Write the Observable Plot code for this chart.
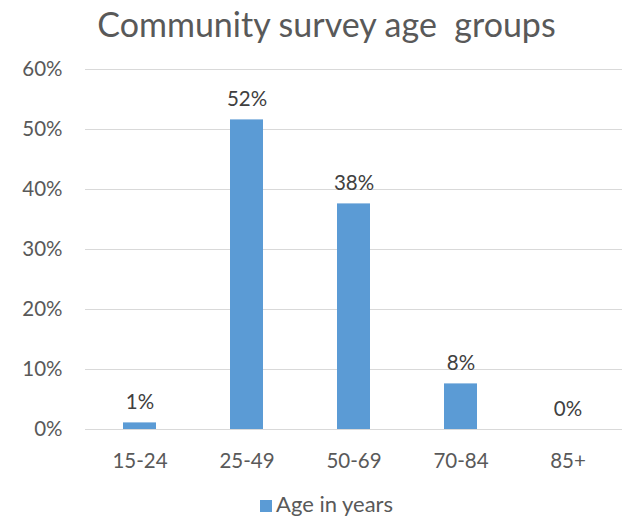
<!DOCTYPE html>
<html><head><meta charset="utf-8">
<script src="https://cdn.jsdelivr.net/npm/d3@7"></script>
<script src="https://cdn.jsdelivr.net/npm/@observablehq/plot@0.6"></script>
<style>
html,body{margin:0;padding:0;background:#fff;overflow:hidden}
#wrap{width:623px;height:522px;font-family:Lato,sans-serif;color:#595959;background:#fff}
#title{height:50px;line-height:48px;font-size:34px;text-align:center;white-space:pre;position:relative;left:15px;width:623px}
#legend{height:37px;box-sizing:border-box;padding-top:6.3px;line-height:26.4px;font-size:22px;text-align:center;position:relative;left:15px;width:623px;white-space:nowrap}
#legend .sw{display:inline-block;width:12.6px;height:12.6px;background:#5b9bd5;margin-right:3.5px;vertical-align:baseline}
</style>
</head><body>
<div id="wrap">
  <div id="title"></div>
  <div id="chart"></div>
  <div id="legend"></div>
</div>
<script>
const titleText = "Community survey age  groups";
const seriesName = "Age in years";
const categories = ["15-24", "25-49", "50-69", "70-84", "85+"];
const values = [0.011, 0.516, 0.376, 0.076, 0];
const yTicks = [0, 0.1, 0.2, 0.3, 0.4, 0.5, 0.6];
const barColor = "#5b9bd5";

const data = categories.map((c, i) => ({cat: c, val: values[i]}));
const pct = d3.format(".0%");

document.getElementById("title").textContent = titleText;
const lg = document.getElementById("legend");
const sw = document.createElement("span"); sw.className = "sw"; sw.style.background = barColor;
lg.appendChild(sw);
lg.appendChild(document.createTextNode(seriesName));

const chart = Plot.plot({
  width: 623, height: 435,
  marginTop: 19, marginBottom: 56, marginLeft: 85, marginRight: 1,
  style: {fontFamily: "Lato, sans-serif", fontSize: "20.5px", color: "#595959", background: "white", overflow: "visible"},
  x: {domain: categories, paddingInner: 0.693, paddingOuter: 0.3465},
  y: {domain: [0, 0.6]},
  marks: [
    Plot.ruleY(yTicks, {stroke: "#d9d9d9", strokeWidth: 1}),
    Plot.barY(data, {x: "cat", y: "val", fill: barColor}),
    Plot.text(data, {x: "cat", y: "val", text: d => pct(d.val), lineAnchor: "bottom", dy: -14, fill: "#404040"}),
    Plot.axisX({tickSize: 0, tickPadding: 24, label: null}),
    Plot.axisY(yTicks, {tickFormat: pct, tickSize: 0, tickPadding: 23, label: null})
  ]
});
document.getElementById("chart").appendChild(chart);
</script>
</body></html>
